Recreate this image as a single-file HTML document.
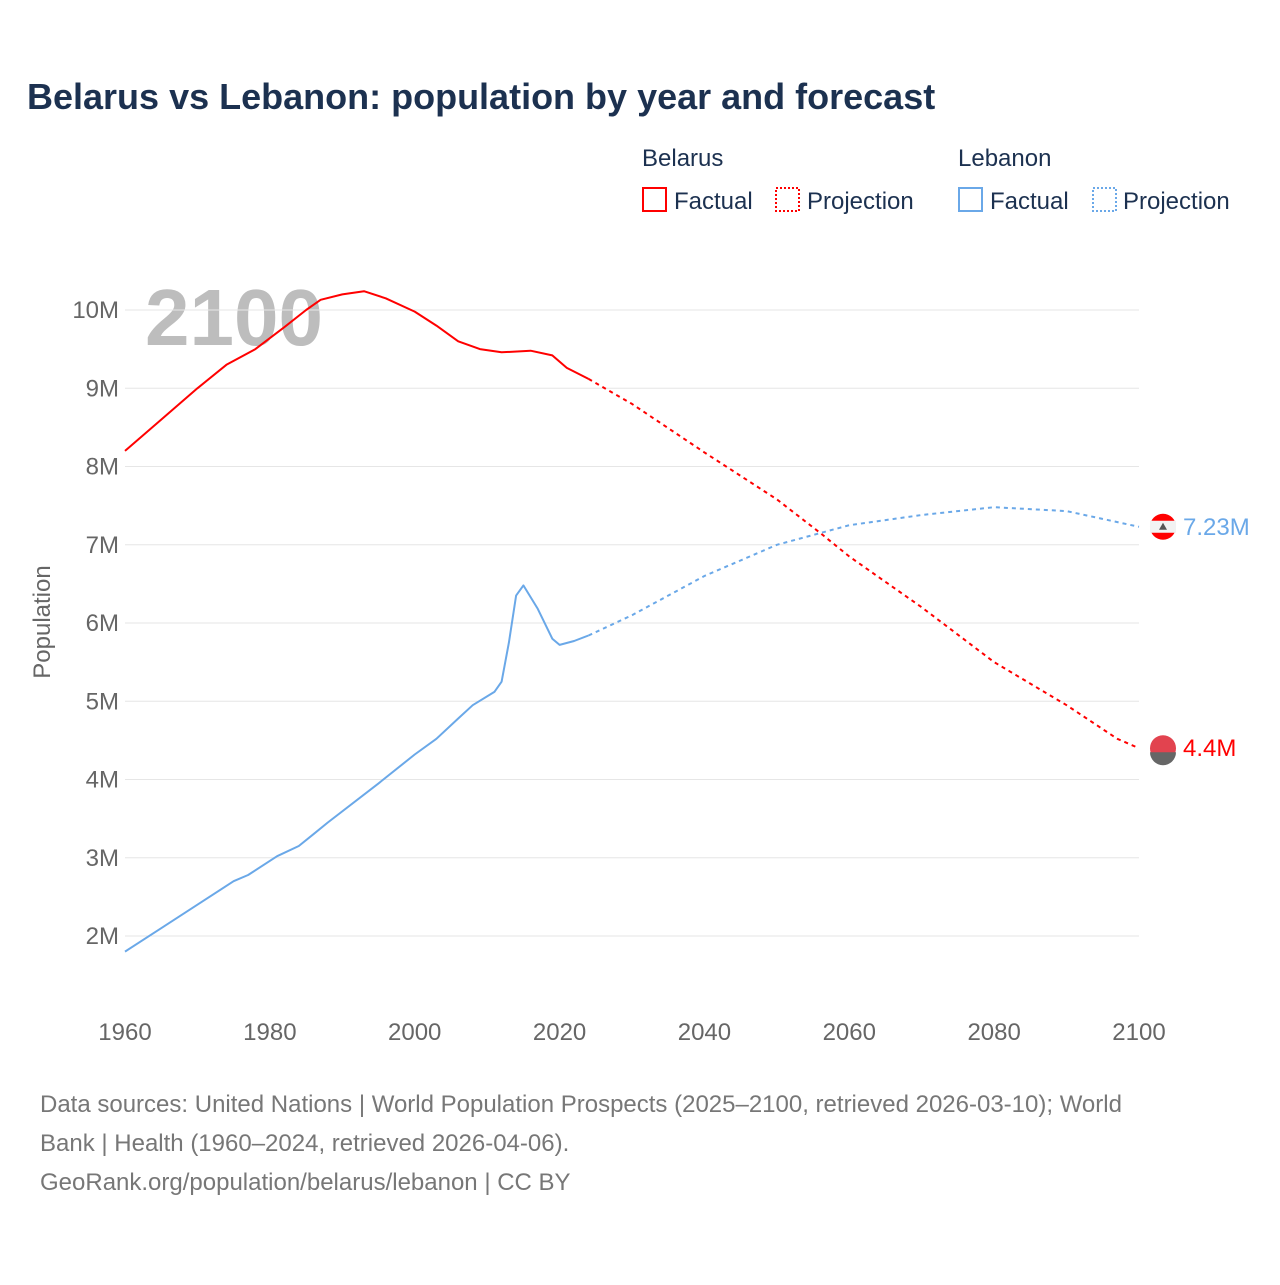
<!DOCTYPE html>
<html><head><meta charset="utf-8"><style>
body{margin:0;background:#fff;width:1280px;height:1280px;overflow:hidden;font-family:"Liberation Sans",sans-serif}
svg text{font-family:"Liberation Sans",sans-serif}
</style></head><body>
<svg id="c" width="1280" height="1280">
<text x="27" y="109" font-size="36" font-weight="bold" fill="#1c3150">Belarus vs Lebanon: population by year and forecast</text>
<g>
<text x="642" y="166" font-size="24" fill="#1c3150">Belarus</text>
<text x="958" y="166" font-size="24" fill="#1c3150">Lebanon</text>
<g><rect x="643" y="188" width="23" height="23" fill="none" stroke="#f00" stroke-width="2"/><text x="674" y="209" font-size="24" fill="#1c3150">Factual</text></g>
<g><rect x="776" y="188" width="23" height="23" fill="none" stroke="#f00" stroke-width="2" stroke-dasharray="2,2"/><text x="807" y="209" font-size="24" fill="#1c3150">Projection</text></g>
<g><rect x="959" y="188" width="23" height="23" fill="none" stroke="#6aa8e8" stroke-width="2"/><text x="990" y="209" font-size="24" fill="#1c3150">Factual</text></g>
<g><rect x="1093" y="188" width="23" height="23" fill="none" stroke="#6aa8e8" stroke-width="2" stroke-dasharray="2,2"/><text x="1123" y="209" font-size="24" fill="#1c3150">Projection</text></g>
</g>
<text x="145" y="345" font-size="80" font-weight="bold" fill="#bdbdbd">2100</text>
<g id="grid"></g><g id="marks"></g>
<text transform="translate(50,622) rotate(-90)" text-anchor="middle" font-size="24" fill="#666">Population</text>
<g font-size="24" fill="#777">
<text x="40" y="1112">Data sources: United Nations | World Population Prospects (2025–2100, retrieved 2026-03-10); World</text>
<text x="40" y="1151">Bank | Health (1960–2024, retrieved 2026-04-06).</text>
<text x="40" y="1190">GeoRank.org/population/belarus/lebanon | CC BY</text>
</g>
</svg>
<script>
const yTicks=[2,3,4,5,6,7,8,9,10];
const xTicks=[1960,1980,2000,2020,2040,2060,2080,2100];
const byFactYears=[1960,1965,1970,1974,1978,1982,1985,1987,1990,1993,1996,2000,2003,2006,2009,2012,2016,2019,2021,2024];
const byFactVals=[8.2,8.6,9.0,9.3,9.5,9.78,10.0,10.13,10.2,10.24,10.15,9.98,9.8,9.6,9.5,9.46,9.48,9.42,9.26,9.12];
const byProjYears=[2024,2030,2040,2050,2056,2060,2070,2080,2090,2097,2100];
const byProjVals=[9.12,8.8,8.18,7.58,7.15,6.85,6.2,5.5,4.95,4.52,4.4];
const lbFactYears=[1960,1965,1970,1975,1977,1981,1984,1986,1988,1995,2000,2003,2006,2008,2011,2012,2013,2014,2015,2017,2019,2020,2022,2024];
const lbFactVals=[1.8,2.1,2.4,2.7,2.78,3.02,3.15,3.3,3.45,3.95,4.32,4.52,4.78,4.95,5.12,5.25,5.75,6.35,6.48,6.18,5.8,5.72,5.77,5.84];
const lbProjYears=[2024,2030,2040,2050,2060,2070,2080,2090,2100];
const lbProjVals=[5.84,6.1,6.6,7.0,7.25,7.38,7.48,7.43,7.23];
const endLabels=["4.4M","7.23M"];
const NS="http://www.w3.org/2000/svg";
const X=y=>125+(y-1960)*(1014/140);
const Y=v=>936-(v-2)*78.25;
function mk(t,a,p){const e=document.createElementNS(NS,t);for(const k in a)e.setAttribute(k,a[k]);p.appendChild(e);return e;}
const g=document.getElementById('grid'),m=document.getElementById('marks');
yTicks.forEach(v=>{
 const l=mk('line',{x1:125,x2:1139,y1:Y(v),y2:Y(v),stroke:'#e6e6e6','stroke-width':1},g);
 
 
 const t=mk('text',{x:119,y:Y(v)+8,'text-anchor':'end','font-size':24,fill:'#666'},g);t.textContent=v+'M';
 
 
});
xTicks.forEach(v=>{
 const t=mk('text',{x:X(v),y:1040,'text-anchor':'middle','font-size':24,fill:'#666'},g);t.textContent=v;
 
 
});
function line(ys,vs,col,dash,name){
 const d=ys.map((y,i)=>(i?'L':'M')+X(y).toFixed(1)+','+Y(vs[i]).toFixed(1)).join('');
 const p=mk('path',{d:d,fill:'none',stroke:col,'stroke-width':2,'stroke-linejoin':'round'},m);
 if(dash)p.setAttribute('stroke-dasharray','4,4');
 
 
}
line(byFactYears,byFactVals,'#f00',false,'belarus-factual-line');
line(byProjYears,byProjVals,'#f00',true,'belarus-projection-line');
line(lbFactYears,lbFactVals,'#6aa8e8',false,'lebanon-factual-line');
line(lbProjYears,lbProjVals,'#6aa8e8',true,'lebanon-projection-line');
// end markers
const by=Y(byProjVals[byProjVals.length-1]),ly=Y(lbProjVals[lbProjVals.length-1]);
const f1=mk('g',{},m);


mk('clipPath',{id:'cb'},f1).appendChild(document.createElementNS(NS,'circle'));
mk('circle',{cx:1163,cy:by,r:13,fill:'#e2434f'},f1);
mk('path',{d:`M1150,${by+4} H1176 A13,13 0 0 1 1150,${by+4}Z`,fill:'#666'},f1);
const t1=mk('text',{x:1183,y:by+8,'font-size':24,fill:'#f00'},m);t1.textContent=endLabels[0];


const f2=mk('g',{},m);


mk('circle',{cx:1163,cy:ly,r:13,fill:'#f00'},f2);
mk('rect',{x:1150,y:ly-6,width:26,height:12,fill:'#f2f2f2'},f2);
mk('path',{d:`M1163,${ly-4} L1167,${ly+3} L1159,${ly+3}Z`,fill:'#555'},f2);
const t2=mk('text',{x:1183,y:ly+8,'font-size':24,fill:'#6aa8e8'},m);t2.textContent=endLabels[1];


</script>
</body></html>
